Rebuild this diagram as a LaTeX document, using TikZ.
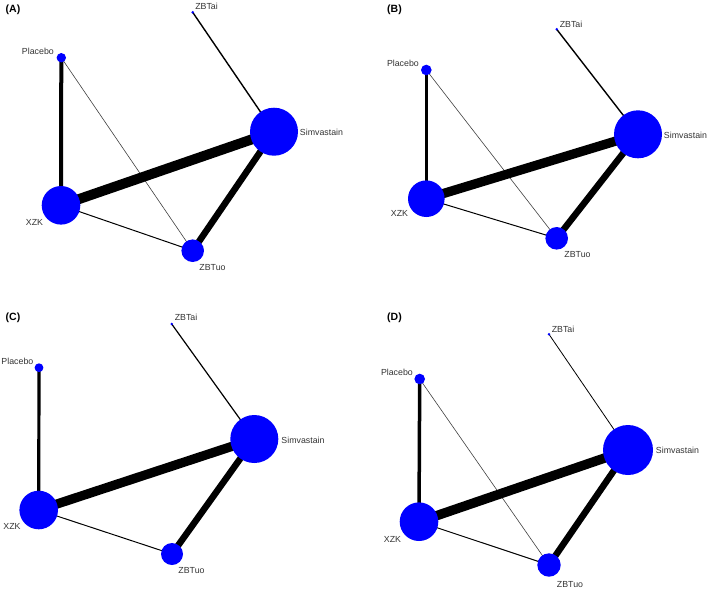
\documentclass[tikz,border=0pt]{standalone}
\usepackage{fontspec}
\setmainfont{Liberation Sans}
\usetikzlibrary{backgrounds}
\tikzset{
  trt/.style={circle, fill=blue, draw=none, inner sep=0pt, minimum size=#1},
  lbl/.style={inner sep=0pt, font=\fontsize{8.8}{10}\selectfont, text=black!80},
  ttl/.style={inner sep=0pt, font=\fontsize{10.5}{12}\selectfont\bfseries},
  edge/.style={draw=black, line width=#1}
}
\begin{document}
\begin{tikzpicture}[x=1pt,y=-1pt]
\useasboundingbox (0,0) rectangle (709,590);
% ---------------- Panel A ----------------
\node[ttl] (Atitle) at (13,10) {(A)};
\node[trt=2.8pt] (Azbtai) at (192.7,12.3) {};
\node[trt=9.4pt] (Aplac) at (61.3,57.7) {};
\node[trt=48pt] (Asimv) at (274,131.7) {};
\node[trt=38.6pt] (Axzk) at (61,205.3) {};
\node[trt=22.6pt] (Azbtuo) at (192.7,250.7) {};
\node[lbl] (Lazbtai) at (206.5,6) {ZBTai};
\node[lbl,anchor=east] (Laplac) at (54,51.7) {Placebo};
\node[lbl] (Lasimv) at (321.5,132) {Simvastain};
\node[lbl] (Laxzk) at (34.5,222) {XZK};
\node[lbl] (Lazbtuo) at (212.5,268) {ZBTuo};
% ---------------- Panel B ----------------
\node[ttl] (Btitle) at (394.5,10) {(B)};
\node[trt=2.8pt] (Bzbtai) at (556.7,29.3) {};
\node[trt=10.6pt] (Bplac) at (426.3,70) {};
\node[trt=48pt] (Bsimv) at (638,134.3) {};
\node[trt=36.6pt] (Bxzk) at (426.3,198.7) {};
\node[trt=22.6pt] (Bzbtuo) at (556.7,238.3) {};
\node[lbl] (Lbzbtai) at (571,24) {ZBTai};
\node[lbl,anchor=east] (Lbplac) at (419,63) {Placebo};
\node[lbl] (Lbsimv) at (685.5,135) {Simvastain};
\node[lbl] (Lbxzk) at (399.5,213) {XZK};
\node[lbl] (Lbzbtuo) at (577.5,255) {ZBTuo};
% ---------------- Panel C ----------------
\node[ttl] (Ctitle) at (13,317.7) {(C)};
\node[trt=2.8pt] (Czbtai) at (171.7,324) {};
\node[trt=8.8pt] (Cplac) at (39,367.7) {};
\node[trt=48pt] (Csimv) at (254.3,439) {};
\node[trt=38.6pt] (Cxzk) at (38.7,510) {};
\node[trt=22pt] (Czbtuo) at (172,554) {};
\node[lbl] (Lczbtai) at (186,317.7) {ZBTai};
\node[lbl,anchor=east] (Lcplac) at (33.5,361.7) {Placebo};
\node[lbl] (Lcsimv) at (303,440) {Simvastain};
\node[lbl] (Lcxzk) at (12,526.7) {XZK};
\node[lbl] (Lczbtuo) at (191.5,571) {ZBTuo};
% ---------------- Panel D ----------------
\node[ttl] (Dtitle) at (394.5,317.7) {(D)};
\node[trt=2.8pt] (Dzbtai) at (549,334.3) {};
\node[trt=10.6pt] (Dplac) at (419.7,379) {};
\node[trt=50pt] (Dsimv) at (628,450) {};
\node[trt=38.6pt] (Dxzk) at (419,521.7) {};
\node[trt=23.4pt] (Dzbtuo) at (549,565) {};
\node[lbl] (Ldzbtai) at (563,329) {ZBTai};
\node[lbl,anchor=east] (Ldplac) at (413,372.3) {Placebo};
\node[lbl] (Ldsimv) at (677.5,450.7) {Simvastain};
\node[lbl] (Ldxzk) at (392.5,539) {XZK};
\node[lbl] (Ldzbtuo) at (570,584.3) {ZBTuo};
% ---------------- Edges ----------------
\begin{pgfonlayer}{background}
% A
\draw[edge=4pt] (Aplac.center) -- (Axzk.center);
\draw[edge=1.4pt] (Azbtai.center) -- (Asimv.center);
\draw[edge=0.6pt, draw=black!75] (Aplac.center) -- (Azbtuo.center);
\draw[edge=10pt] (Axzk.center) -- (Asimv.center);
\draw[edge=6.5pt] (Azbtuo.center) -- (Asimv.center);
\draw[edge=1pt] (Axzk.center) -- (Azbtuo.center);
% B
\draw[edge=3.2pt] (Bplac.center) -- (Bxzk.center);
\draw[edge=1.4pt] (Bzbtai.center) -- (Bsimv.center);
\draw[edge=0.6pt, draw=black!75] (Bplac.center) -- (Bzbtuo.center);
\draw[edge=9.3pt] (Bxzk.center) -- (Bsimv.center);
\draw[edge=6.5pt] (Bzbtuo.center) -- (Bsimv.center);
\draw[edge=1pt] (Bxzk.center) -- (Bzbtuo.center);
% C
\draw[edge=3.2pt] (Cplac.center) -- (Cxzk.center);
\draw[edge=1.2pt] (Czbtai.center) -- (Csimv.center);
\draw[edge=9.3pt] (Cxzk.center) -- (Csimv.center);
\draw[edge=6.5pt] (Czbtuo.center) -- (Csimv.center);
\draw[edge=1pt] (Cxzk.center) -- (Czbtuo.center);
% D
\draw[edge=3.5pt] (Dplac.center) -- (Dxzk.center);
\draw[edge=0.8pt] (Dzbtai.center) -- (Dsimv.center);
\draw[edge=0.6pt, draw=black!75] (Dplac.center) -- (Dzbtuo.center);
\draw[edge=9.5pt] (Dxzk.center) -- (Dsimv.center);
\draw[edge=6.5pt] (Dzbtuo.center) -- (Dsimv.center);
\draw[edge=1pt] (Dxzk.center) -- (Dzbtuo.center);
\end{pgfonlayer}
\end{tikzpicture}
\end{document}
